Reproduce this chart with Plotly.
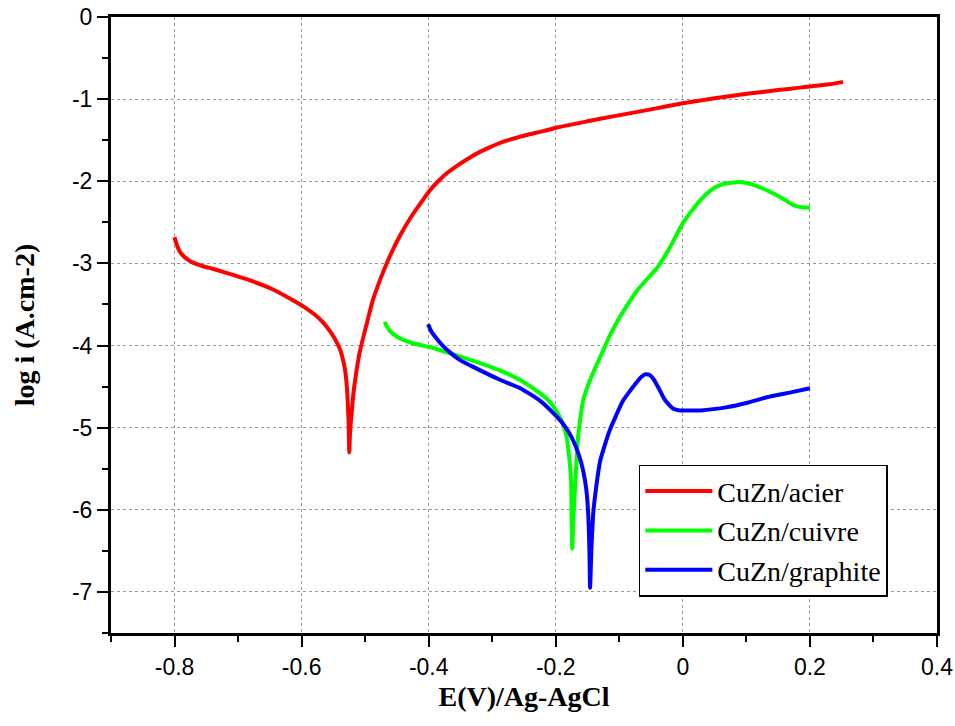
import plotly.graph_objects as go

# ---- data ----
acier_E = [-0.800, -0.797, -0.793, -0.786, -0.778, -0.771, -0.755, -0.740, -0.708, -0.680,
           -0.650, -0.620, -0.598, -0.580, -0.566, -0.554, -0.544, -0.539, -0.535, -0.532,
           -0.530, -0.528, -0.527, -0.526, -0.525, -0.524, -0.523, -0.521, -0.519, -0.514,
           -0.508, -0.498, -0.488, -0.475, -0.461, -0.445, -0.429, -0.413, -0.398, -0.385,
           -0.371, -0.355, -0.335, -0.320, -0.305, -0.290, -0.275, -0.260, -0.240, -0.220,
           -0.198, -0.150, -0.110, -0.050, 0.000, 0.050, 0.101, 0.150, 0.184, 0.200,
           0.230, 0.252]
acier_logi = [-2.68, -2.76, -2.84, -2.91, -2.96, -2.99, -3.035, -3.065, -3.14, -3.21,
              -3.30, -3.42, -3.52, -3.62, -3.72, -3.84, -3.97, -4.06, -4.17, -4.28,
              -4.40, -4.60, -4.75, -4.95, -5.30, -5.10, -4.98, -4.80, -4.62, -4.33,
              -4.06, -3.75, -3.45, -3.17, -2.91, -2.66, -2.45, -2.27, -2.11, -2.00,
              -1.90, -1.81, -1.71, -1.645, -1.59, -1.54, -1.50, -1.465, -1.425, -1.39,
              -1.345, -1.27, -1.21, -1.125, -1.05, -0.99, -0.935, -0.89, -0.86, -0.845,
              -0.82, -0.79]

cuivre_E = [-0.469, -0.467, -0.464, -0.460, -0.454, -0.445, -0.430, -0.410, -0.393, -0.356,
            -0.325, -0.289, -0.256, -0.225, -0.210, -0.198, -0.190, -0.183, -0.179, -0.176,
            -0.175, -0.174, -0.172, -0.169, -0.165, -0.161, -0.157, -0.146, -0.130, -0.115,
            -0.099, -0.085, -0.072, -0.055, -0.039, -0.020, 0.000, 0.020, 0.038, 0.050,
            0.065, 0.090, 0.110, 0.132, 0.155, 0.174, 0.190, 0.200]
cuivre_logi = [-3.71, -3.75, -3.79, -3.83, -3.87, -3.915, -3.96, -4.00, -4.03, -4.12,
               -4.20, -4.30, -4.42, -4.58, -4.68, -4.81, -4.93, -5.11, -5.35, -5.64,
               -6.05, -6.47, -6.05, -5.64, -5.12, -4.87, -4.67, -4.42, -4.14, -3.88,
               -3.65, -3.48, -3.33, -3.18, -3.04, -2.80, -2.51, -2.30, -2.15, -2.08,
               -2.03, -2.01, -2.04, -2.11, -2.20, -2.29, -2.32, -2.32]

graphite_E = [-0.401, -0.395, -0.388, -0.378, -0.367, -0.350, -0.330, -0.287, -0.256, -0.225,
              -0.198, -0.185, -0.173, -0.163, -0.157, -0.152, -0.149, -0.147, -0.146, -0.144,
              -0.141, -0.136, -0.130, -0.115, -0.094, -0.080, -0.072, -0.065, -0.059, -0.052,
              -0.046, -0.038, -0.030, -0.022, -0.015, -0.005, 0.028, 0.070, 0.100, 0.132,
              0.170, 0.200]
graphite_logi = [-3.74, -3.84, -3.91, -4.00, -4.08, -4.18, -4.26, -4.42, -4.52, -4.67,
                 -4.87, -4.99, -5.15, -5.35, -5.52, -5.75, -6.04, -6.50, -6.95, -6.50,
                 -6.04, -5.70, -5.40, -5.03, -4.67, -4.52, -4.44, -4.38, -4.35, -4.36,
                 -4.41, -4.52, -4.64, -4.72, -4.77, -4.79, -4.79, -4.75, -4.70, -4.63,
                 -4.57, -4.52]

series_names = ["CuZn/acier", "CuZn/cuivre", "CuZn/graphite"]
series_colors = ["#FF0000", "#00FF00", "#0000FF"]

x_tickvals = [-0.8, -0.6, -0.4, -0.2, 0.0, 0.2, 0.4]
x_ticktext = ["-0.8", "-0.6", "-0.4", "-0.2", "0", "0.2", "0.4"]
y_tickvals = [0, -1, -2, -3, -4, -5, -6, -7]
y_ticktext = ["0", "-1", "-2", "-3", "-4", "-5", "-6", "-7"]

fig = go.Figure()
for name, color, xs, ys in zip(series_names, series_colors,
                               [acier_E, cuivre_E, graphite_E],
                               [acier_logi, cuivre_logi, graphite_logi]):
    fig.add_trace(go.Scatter(x=xs, y=ys, mode="lines", name=name,
                             line=dict(color=color, width=4, shape="spline", smoothing=0.5)))

axis_common = dict(
    showline=True, linecolor="black", linewidth=3, mirror=True,
    ticks="outside", ticklen=11, tickwidth=2, tickcolor="black",
    showgrid=True, gridcolor="#9a9a9a", griddash="dot", gridwidth=1,
    zeroline=False, automargin=False,
    tickfont=dict(family="Liberation Sans, Arial", size=23, color="black"),
)

fig.update_xaxes(
    range=[-0.9, 0.4], tickmode="array", tickvals=x_tickvals, ticktext=x_ticktext,
    minor=dict(ticks="outside", ticklen=6, tickwidth=2, tickcolor="black", dtick=0.1,
               tick0=-0.9, showgrid=False),
    title=dict(text="<b>E(V)/Ag-AgCl</b>",
               font=dict(family="Liberation Serif, Times New Roman", size=28, color="black"),
               standoff=8),
    **axis_common)
fig.update_yaxes(
    range=[-7.5, 0], tickmode="array", tickvals=y_tickvals, ticktext=y_ticktext,
    minor=dict(ticks="outside", ticklen=6, tickwidth=2, tickcolor="black", dtick=0.5,
               tick0=0, showgrid=False),
    title=dict(text="<b>log i (A.cm-2)</b>",
               font=dict(family="Liberation Serif, Times New Roman", size=28, color="black"),
               standoff=30),
    **axis_common)

fig.update_layout(
    width=955, height=726,
    margin=dict(l=111, r=18, t=17, b=93),
    paper_bgcolor="white", plot_bgcolor="white",
    showlegend=True,
    legend=dict(
        x=0.639, y=0.273, xanchor="left", yanchor="top",
        bgcolor="white", bordercolor="black", borderwidth=1.5,
        font=dict(family="Liberation Serif, Times New Roman", size=28, color="black"),
        itemwidth=67,
    ),
)

fig.write_html("out.html")
